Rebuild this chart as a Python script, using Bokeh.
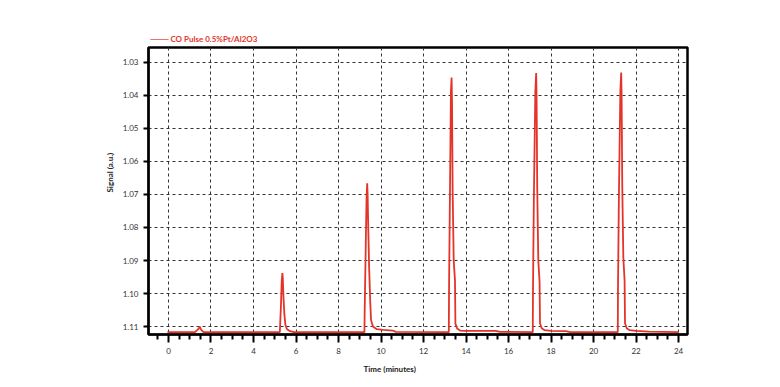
from bokeh.plotting import figure
from bokeh.models import Range1d, FixedTicker, NumeralTickFormatter, Title
from bokeh.embed import file_html
from bokeh.resources import INLINE

# ---- data ----
time_min = [
    -0.05, 1.25, 1.40, 1.47, 1.54, 1.65,
    5.24, 5.25, 5.29, 5.33, 5.36, 5.38, 5.41, 5.45, 5.50, 5.58, 5.72, 5.90,
    9.22, 9.23, 9.28, 9.32, 9.35, 9.37, 9.40, 9.44, 9.49, 9.53, 9.62, 9.80, 10.10, 10.55, 10.70,
    13.19, 13.20, 13.24, 13.29, 13.32, 13.34, 13.37, 13.42, 13.48, 13.50, 13.58, 13.72, 14.00, 15.40, 15.60,
    17.14, 17.15, 17.19, 17.26, 17.30, 17.32, 17.35, 17.40, 17.46, 17.48, 17.56, 17.70, 18.00, 18.70, 18.90,
    21.14, 21.15, 21.19, 21.26, 21.30, 21.32, 21.35, 21.40, 21.46, 21.48, 21.56, 21.70, 22.00, 22.60,
    24.00,
]
signal = [
    1.1117, 1.1117, 1.1108, 1.1100, 1.1110, 1.1117,
    1.1117, 1.1100, 1.1040, 1.0960, 1.0938, 1.0955, 1.1010, 1.1060, 1.1095, 1.1108, 1.1114, 1.1117,
    1.1117, 1.1060, 1.0860, 1.0710, 1.0666, 1.0700, 1.0800, 1.0920, 1.1020, 1.1080, 1.1100, 1.1108, 1.1110, 1.1112, 1.1116,
    1.1117, 1.0991, 1.0718, 1.0385, 1.0346, 1.0415, 1.0688, 1.0900, 1.0960, 1.1091, 1.1106, 1.1112, 1.1113, 1.1113, 1.1116,
    1.1117, 1.0990, 1.0720, 1.0390, 1.0332, 1.0410, 1.0680, 1.0900, 1.0965, 1.1090, 1.1105, 1.1111, 1.1113, 1.1114, 1.1117,
    1.1117, 1.0985, 1.0720, 1.0390, 1.0331, 1.0400, 1.0670, 1.0890, 1.0960, 1.1090, 1.1105, 1.1111, 1.1113, 1.1115,
    1.1117,
]
series_name = "CO Pulse 0.5%Pt/Al2O3"
x_ticks = [0, 2, 4, 6, 8, 10, 12, 14, 16, 18, 20, 22, 24]
x_minor = [-0.5, 0.5, 1, 1.5, 2.5, 3, 3.5, 4.5, 5, 5.5, 6.5, 7, 7.5, 8.5, 9, 9.5,
           10.5, 11, 11.5, 12.5, 13, 13.5, 14.5, 15, 15.5, 16.5, 17, 17.5,
           18.5, 19, 19.5, 20.5, 21, 21.5, 22.5, 23, 23.5]
y_ticks = [1.03, 1.04, 1.05, 1.06, 1.07, 1.08, 1.09, 1.10, 1.11]
x_title = "Time (minutes)"
y_title = "Signal (a.u.)"

FONT = "Lato"
RED = "#e4342a"

p = figure(width=780, height=387, output_backend="svg", toolbar_location=None,
           x_range=Range1d(-0.94, 24.42), y_range=Range1d(1.1124, 1.0255),
           min_border_left=148, min_border_right=93, min_border_top=47, min_border_bottom=53,
           background_fill_color="white", border_fill_color="white")

r = p.line(time_min, signal, color=RED, line_width=1.8)

xt = FixedTicker(ticks=x_ticks, minor_ticks=x_minor)
yt = FixedTicker(ticks=y_ticks, minor_ticks=[])
p.xaxis.ticker = xt
p.yaxis.ticker = yt
p.xgrid.ticker = FixedTicker(ticks=x_ticks)
p.ygrid.ticker = FixedTicker(ticks=y_ticks)
p.yaxis.formatter = NumeralTickFormatter(format="0.00")

for g in (p.xgrid, p.ygrid):
    g.grid_line_color = "#333333"
    g.grid_line_dash = "3 3"
    g.grid_line_width = 1

p.outline_line_color = "black"
p.outline_line_width = 2.5

for ax in (p.xaxis, p.yaxis):
    ax.axis_line_color = "black"
    ax.axis_line_width = 2
    ax.major_tick_line_color = "black"
    ax.major_tick_line_width = 2
    ax.minor_tick_line_color = "black"
    ax.minor_tick_line_width = 2
    ax.major_tick_in = 0
    ax.minor_tick_in = 0
    ax.major_label_text_font = FONT
    ax.major_label_text_font_size = "8px"
    ax.major_label_text_color = "#333333"

p.xaxis.major_tick_out = 8
p.xaxis.minor_tick_out = 5
p.xaxis.major_label_standoff = 5
p.yaxis.major_tick_out = 5
p.yaxis.minor_tick_out = 0
p.yaxis.major_label_standoff = 5

p.add_layout(Title(text=x_title, align="left", offset=215, text_font=FONT,
                   text_font_size="8px", text_font_style="bold", text_color="#222222"), "below")
p.add_layout(Title(text=y_title, align="left", offset=142, text_font=FONT,
                   text_font_size="8px", text_font_style="bold", text_color="#222222"), "left")

# legend entry drawn as a title above the frame (line sample + series name)
p.add_layout(Title(text="\u2500\u2500\u2500 " + series_name, align="left", offset=2, text_font=FONT,
                   text_font_size="8px", text_font_style="bold", text_color=RED,
                   standoff=7), "above")

open("out.html", "w").write(file_html(p, INLINE))
